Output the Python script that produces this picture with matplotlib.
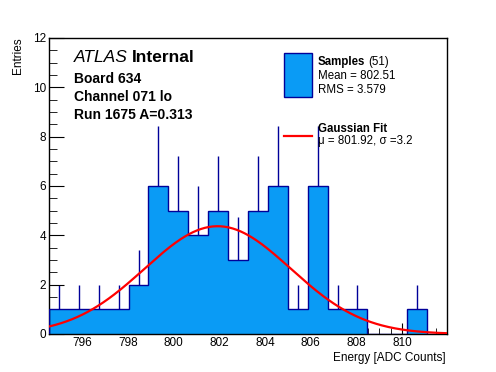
import numpy as np
import matplotlib
matplotlib.use('Agg')
import matplotlib.pyplot as plt
from matplotlib.ticker import MultipleLocator

plt.rcParams['font.family'] = ['Liberation Sans', 'DejaVu Sans']

# histogram contents (20 bins)
x_lo, x_hi = 794.53, 811.97
counts = [1, 1, 1, 1, 2, 6, 5, 4, 5, 3, 5, 6, 1, 6, 1, 1, 0, 0, 1, 0]
n_entries = 51
mean, rms = 802.51, 3.579

# gaussian fit
fit_mu, fit_sigma, fit_amp = 801.92, 3.2, 4.37

W, H = 496, 372
fig = plt.figure(figsize=(W / 100, H / 100), dpi=100)
ax = fig.add_axes([49 / W, 1 - 334 / H, 398 / W, 296 / H])

counts = np.array(counts, dtype=float)
edges = np.linspace(x_lo, x_hi, len(counts) + 1)
centers = 0.5 * (edges[:-1] + edges[1:])
err = np.sqrt(counts)

fill_col = '#0a9bf5'
edge_col = '#000099'

# error bars first so the fill hides the lower half
m = counts > 0
ax.vlines(centers[m], counts[m] - err[m], counts[m] + err[m], color=edge_col, lw=1, zorder=1)
ax.stairs(counts, edges, fill=True, color=fill_col, zorder=2)
ax.stairs(counts, edges, fill=False, color=edge_col, lw=1, zorder=3)

xs = np.linspace(x_lo, x_hi, 300)
ax.plot(xs, fit_amp * np.exp(-0.5 * ((xs - fit_mu) / fit_sigma) ** 2), color='red', lw=1.6, zorder=4)

ax.set_xlim(x_lo, x_hi)
ax.set_ylim(0, 12)
ax.xaxis.set_major_locator(MultipleLocator(2))
ax.xaxis.set_minor_locator(MultipleLocator(0.5))
ax.yaxis.set_major_locator(MultipleLocator(2))
ax.yaxis.set_minor_locator(MultipleLocator(0.5))
ax.tick_params(which='both', direction='in', top=False, right=False, labelsize=8.5)
ax.tick_params(axis='x', which='major', length=8, pad=2.5)
ax.tick_params(axis='x', which='minor', length=4)
ax.tick_params(axis='y', which='major', length=11, pad=2)
ax.tick_params(axis='y', which='minor', length=5.5)
for s in ax.spines.values():
    s.set_linewidth(1)

def px(x, y):
    return x / W, 1 - y / H

fig.text(*px(446, 358), 'Energy [ADC Counts]', ha='right', va='center', fontsize=8.5)
fig.text(*px(18, 37), 'Entries', ha='center', va='top', rotation=90, fontsize=8.5)

# header text
txt = fig.text(*px(74, 58), 'ATLAS', ha='left', va='center', fontsize=12.5, style='italic')
fig.canvas.draw()
bb = txt.get_window_extent()
fig.text(bb.x1 / W + 4 / W, 1 - 58 / H, 'Internal', ha='left', va='center', fontsize=12.5, weight='bold')
fig.text(*px(74, 79), 'Board 634', ha='left', va='center', fontsize=10, weight='bold')
fig.text(*px(74, 97), 'Channel 071 lo', ha='left', va='center', fontsize=10, weight='bold')
fig.text(*px(74, 115), 'Run 1675 A=0.313', ha='left', va='center', fontsize=10, weight='bold')

# legend
leg_box = plt.Rectangle(px(283.5, 97), 28 / W, 44 / H, transform=fig.transFigure,
                        facecolor=fill_col, edgecolor=edge_col, lw=1)
fig.patches.append(leg_box)
s1 = fig.text(*px(318, 62), 'Samples', ha='left', va='center', fontsize=8.3, weight='bold')
fig.canvas.draw()
bb = s1.get_window_extent()
fig.text(bb.x1 / W + 3 / W, 1 - 62 / H, '(%d)' % n_entries, ha='left', va='center', fontsize=8.3)
fig.text(*px(318, 76), 'Mean = %.2f' % mean, ha='left', va='center', fontsize=8.3)
fig.text(*px(318, 90), 'RMS = %.3f' % rms, ha='left', va='center', fontsize=8.3)

fig.add_artist(plt.Line2D([283.5 / W, 311.5 / W], [1 - 135.7 / H] * 2, color='red', lw=1.6))
fig.text(*px(318, 129), 'Gaussian Fit', ha='left', va='center', fontsize=8.3, weight='bold')
fig.text(*px(318, 141), 'μ = %.2f, σ =%.1f' % (fit_mu, fit_sigma), ha='left', va='center', fontsize=8.3)

fig.savefig('out.png', dpi=100)
